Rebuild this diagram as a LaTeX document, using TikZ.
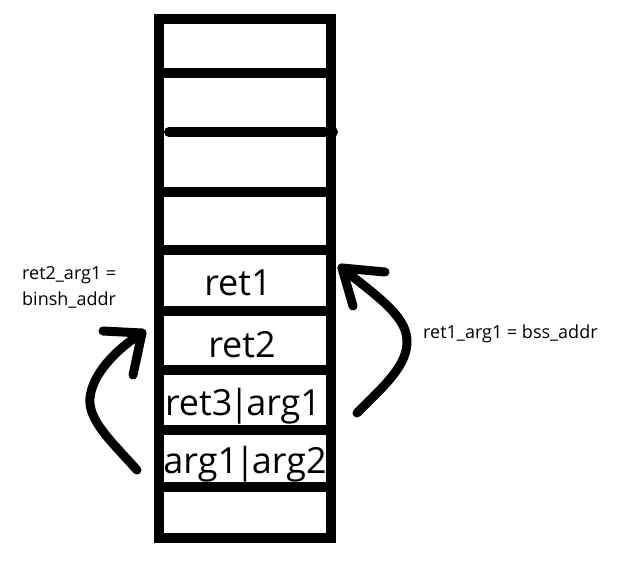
\documentclass[tikz,border=0pt]{standalone}
\usepackage{fontspec}
\setmainfont{Open Sans}
\newcommand{\vbar}{\kern-3pt|\kern-3pt}
\begin{document}
\begin{tikzpicture}[x=1pt,y=-1pt,
  frame/.style={line width=10pt},
  sep/.style={line width=10pt},
  cell/.style={font=\fontsize{36}{42}\selectfont, inner sep=0pt, anchor=base},
  note/.style={font=\fontsize{18}{22}\selectfont, inner sep=0pt, anchor=base west},
  hand/.style={line width=9pt, line cap=round, line join=round}]
\useasboundingbox (0,0) rectangle (640,566);
% stack
\draw[frame] (159,19) rectangle (330.5,538);
\foreach \y in {73,192,250,311,370,430,487} \draw[sep] (164,\y) -- (326,\y);
\draw[sep, line cap=round] (169,132) -- (333,132);
% cell texts
\node[cell] (r1) at (238,295) {ret1};
\node[cell] (r2) at (242,357) {ret2};
\node[cell] (r3) at (243,415) {ret3\vbar arg1};
\node[cell] (a12) at (245,473) {arg1\vbar arg2};
% notes
\node[note] (n2a) at (22,279) {ret2\_arg1 =};
\node[note] (n2b) at (22,305) {binsh\_addr};
\node[note] (n1) at (423,338) {ret1\_arg1 = bss\_addr};
% left arrow
\coordinate (lt) at (137,470);
\coordinate (lm) at (90,398);
\coordinate (lh) at (142,333);
\coordinate (la1) at (103,331);
\coordinate (la2) at (133,375);
\draw[hand] (lt) .. controls (110,440) and (88,420) .. (lm) .. controls (92,375) and (115,350) .. (lh);
\draw[hand] (la1) -- (lh) -- (la2);
% right arrow
\coordinate (rt) at (357,413);
\coordinate (rm) at (407,340);
\coordinate (rh) at (342,268);
\coordinate (ra1) at (385,272);
\coordinate (ra2) at (353,306);
\draw[hand] (rt) .. controls (385,385) and (408,365) .. (rm) .. controls (406,315) and (375,295) .. (rh);
\draw[hand] (ra1) -- (rh) -- (ra2);
\end{tikzpicture}
\end{document}
